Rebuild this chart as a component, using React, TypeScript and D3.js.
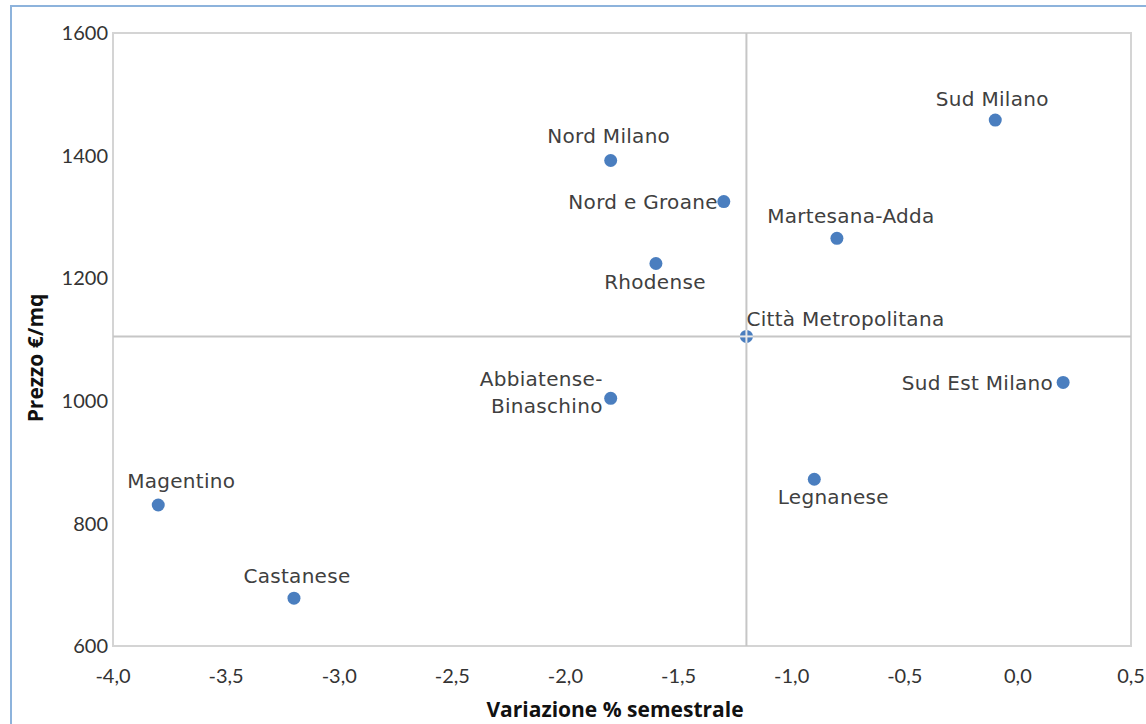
import React from "react";
import * as d3 from "d3";

const areaNames = [
  "Sud Milano",
  "Nord Milano",
  "Nord e Groane",
  "Martesana-Adda",
  "Rhodense",
  "Città Metropolitana",
  "Sud Est Milano",
  "Abbiatense-\nBinaschino",
  "Legnanese",
  "Magentino",
  "Castanese",
];
const variazione = [-0.1, -1.8, -1.3, -0.8, -1.6, -1.2, 0.2, -1.8, -0.9, -3.8, -3.2];
const prezzo = [1458, 1392, 1325, 1265, 1224, 1105, 1030, 1004, 872, 830, 678];

const xTicks = [-4.0, -3.5, -3.0, -2.5, -2.0, -1.5, -1.0, -0.5, 0.0, 0.5];
const yTicks = [600, 800, 1000, 1200, 1400, 1600];
const xTitle = "Variazione % semestrale";
const yTitle = "Prezzo €/mq";
const refX = -1.2;
const refY = 1105;

// label placement (style): [dx, dy of text centre, anchor]
const labelPlace: [number, number, string][] = [
  [-3, -21, "middle"],
  [-2, -25, "middle"],
  [-6, 0, "end"],
  [14, -23, "middle"],
  [-1, 18, "middle"],
  [0, -18, "start"],
  [-10, 0, "end"],
  [-8, -6, "end"],
  [19, 18, "middle"],
  [23, -24, "middle"],
  [3, -22, "middle"],
];

export default function App() {
  const W = 1146;
  const H = 724;
  const left = 113, right = 1131, top = 33, bottom = 646;
  const x = d3.scaleLinear().domain([-4, 0.5]).range([left, right]);
  const y = d3.scaleLinear().domain([600, 1600]).range([bottom, top]);
  const fmt = (v: number) => d3.format(".1f")(v).replace(".", ",").replace("\u2212", "-");
  const blue = "#4a7ebf";
  const labelFont = "'DejaVu Sans', sans-serif";
  const tickFont = "Lato, 'Open Sans', sans-serif";
  const titleFont = "'Open Sans', Lato, sans-serif";

  return (
    <svg
      width={W}
      height={H}
      style={{ position: "absolute", left: 0, top: 0, background: "#fff" }}
    >
      <rect x={0} y={0} width={W} height={H} fill="#fff" />
      {/* chart border */}
      <rect x={11} y={6} width={W + 20} height={H + 20} fill="none" stroke="#8db3dc" strokeWidth={2} />
      {/* plot border */}
      <rect x={left} y={top} width={right - left} height={bottom - top} fill="none" stroke="#d4d4d4" strokeWidth={2} />
      {/* reference lines */}
      <line x1={x(refX)} x2={x(refX)} y1={top} y2={bottom} stroke="#c6c6c6" strokeWidth={2} />
      <line x1={left} x2={right} y1={y(refY)} y2={y(refY)} stroke="#c6c6c6" strokeWidth={2} />
      {/* y ticks */}
      {yTicks.map((t) => (
        <text
          key={"y" + t}
          x={left - 5}
          y={y(t)}
          dy="0.36em"
          textAnchor="end"
          fontFamily={tickFont}
          fontSize={20}
          fill="#333"
        >
          {t}
        </text>
      ))}
      {xTicks.map((t) => (
        <text
          key={"x" + t}
          x={x(t)}
          y={bottom + 30}
          dy="0.36em"
          textAnchor="middle"
          fontFamily={tickFont}
          fontSize={20}
          fill="#333"
        >
          {fmt(t)}
        </text>
      ))}
      {/* axis titles */}
      <text
        x={615}
        y={709}
        dy="0.36em"
        textAnchor="middle"
        fontFamily={titleFont}
        fontWeight="bold"
        fontSize={21}
        fill="#111"
      >
        {xTitle}
      </text>
      <text
        transform={`translate(35,358) rotate(-90)`}
        dy="0.36em"
        textAnchor="middle"
        fontFamily={titleFont}
        fontWeight="bold"
        fontSize={21}
        fill="#111"
      >
        {yTitle}
      </text>
      {/* points */}
      {areaNames.map((n, i) => {
        const cx = x(variazione[i]);
        const cy = y(prezzo[i]);
        const isRef = variazione[i] === refX && prezzo[i] === refY;
        return (
          <g key={"p" + i}>
            <circle cx={cx} cy={cy} r={6.5} fill={blue} />
            {isRef && (
              <g stroke="#e8e8e8" strokeWidth={2}>
                <line x1={cx - 6.5} x2={cx + 6.5} y1={cy} y2={cy} />
                <line x1={cx} x2={cx} y1={cy - 6.5} y2={cy + 6.5} />
              </g>
            )}
          </g>
        );
      })}
      {/* labels */}
      {areaNames.map((n, i) => {
        const cx = x(variazione[i]);
        const cy = y(prezzo[i]);
        const [dx, dy, anchor] = labelPlace[i];
        const lines = n.split("\n");
        const lh = 27;
        const startY = cy + dy - ((lines.length - 1) * lh) / 2;
        return (
          <text
            key={"l" + i}
            textAnchor={anchor as any}
            fontFamily={labelFont}
            fontSize={20}
            letterSpacing={0.3}
            fill="#404040"
          >
            {lines.map((ln, j) => (
              <tspan key={j} x={cx + dx} y={startY + j * lh} dy="0.36em">
                {ln}
              </tspan>
            ))}
          </text>
        );
      })}
    </svg>
  );
}
